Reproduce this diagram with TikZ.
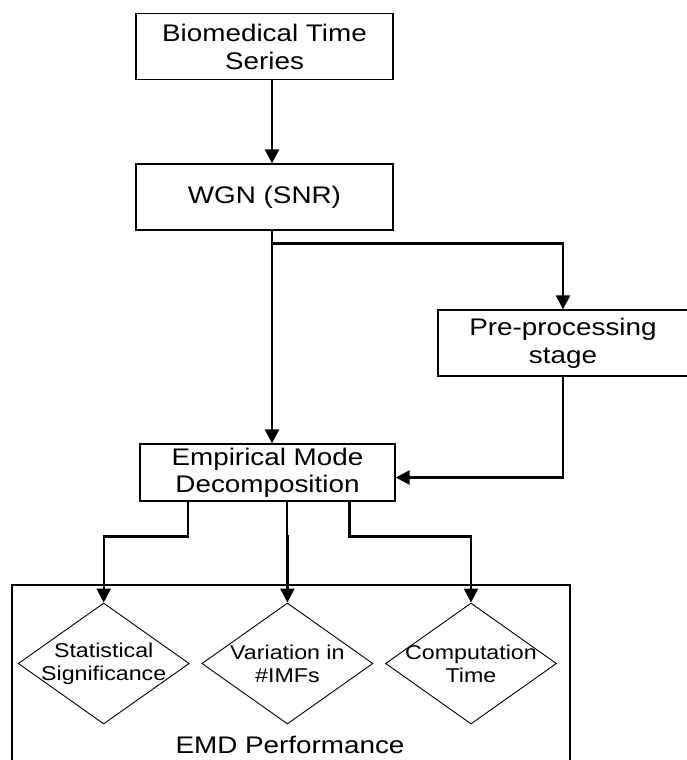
\documentclass[tikz,border=0pt]{standalone}
\usepackage{fontspec}
\setmainfont[FakeStretch=1.16]{Liberation Sans}
\usetikzlibrary{arrows.meta,shapes.geometric,calc}

\begin{document}
\begin{tikzpicture}[
        x=1pt,
        y=-1pt,
        >={Triangle[width=14pt,length=14pt]},
        every node/.style={align=center},
        box/.style={draw, line width=1.3pt, minimum width=257pt, minimum height=66pt, font=\fontsize{24}{28}\selectfont},
        emdbox/.style={draw, line width=1.3pt, minimum width=255pt, minimum height=57pt, inner sep=1pt, font=\fontsize{24}{27}\selectfont},
        metric/.style={draw, diamond, line width=0.9pt, minimum width=171pt, minimum height=121pt, inner sep=0pt},
        metrictext/.style={font=\fontsize{20}{23}\selectfont, align=center},
        conn/.style={->, line width=2.4pt}
    ]
        \useasboundingbox (0,0) rectangle (686,760);
        \node[box] (bts) at (264.5,46.5) {Biomedical Time\\Series};
        \node[box] (wgn) at (264.5,197) {WGN (SNR)};
        \node[box, minimum width=250pt] (pre) at (563,343) {Pre-processing\\stage};
        \node[emdbox] (emd) at (267.5,472.5) {Empirical Mode\\Decomposition};
        \coordinate (trunk) at (272,0);

        \draw[conn] (bts.south -| trunk) -- (wgn.north -| trunk);
        \draw[conn] (wgn.south -| trunk) -- (emd.north -| trunk);
        \draw[conn] ($(wgn.south -| trunk)+(0,13)$) -| (pre.north);
        \draw[conn] (pre.south) |- ($(emd.east)+(0,5)$);

        \node[draw, line width=1.3pt, minimum width=558pt, minimum height=190pt] (perf) at (291,680) {};
        \node[font=\fontsize{24}{28}\selectfont] (perftitle) at (290,745) {EMD Performance};
        \node[metric, label={[metrictext]center:Statistical\\Significance}] (m1) at (103.7,663.5) {};
        \node[metric, label={[metrictext]center:Variation in\\\#IMFs}] (m2) at (287.4,663.5) {};
        \node[metric, label={[metrictext]center:Computation\\Time}] (m3) at (471,663.5) {};
        \foreach \f/\d in {0.19/m1, 0.576/m2, 0.82/m3} {
            \draw[conn] ($(emd.south west)!\f!(emd.south east)$) -- ++(0,35) -| (\d.north);
        }
    \end{tikzpicture}
\end{document}
